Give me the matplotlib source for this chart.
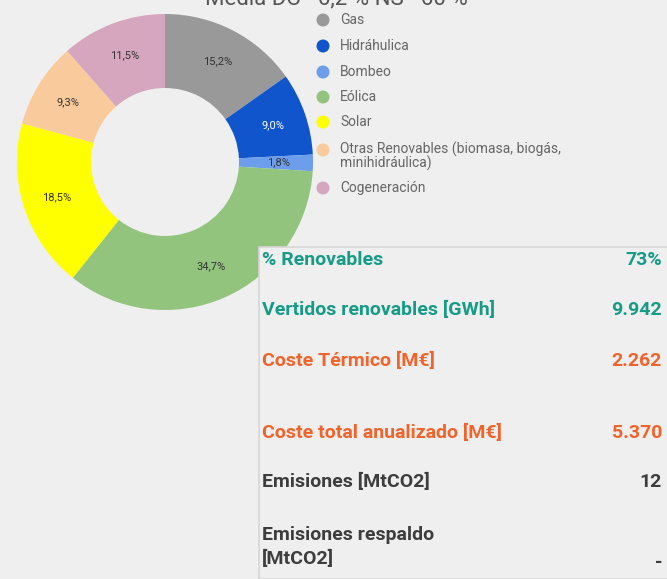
import matplotlib
matplotlib.use("Agg")
import matplotlib.pyplot as plt
from matplotlib.patches import Rectangle, Ellipse
import numpy as np

# ---- data ----
categories = ["Gas", "Hidráhulica", "Bombeo", "Eólica", "Solar",
              "Otras Renovables (biomasa, biogás,\nminihidráulica)", "Cogeneración"]
shares = [15.2, 9.0, 1.8, 34.7, 18.5, 9.3, 11.5]
share_labels = ["15,2%", "9,0%", "1,8%", "34,7%", "18,5%", "9,3%", "11,5%"]
colors = ["#999999", "#1155cc", "#6d9eeb", "#93c47d", "#ffff00", "#f9cb9c", "#d5a6bd"]
label_colors = ["#333333", "#ffffff", "#333333", "#333333", "#333333", "#333333", "#333333"]

title = "Media DC - 6,2 % NS - 60 %"

kpi_names = ["% Renovables", "Vertidos renovables [GWh]", "Coste Térmico [M€]",
             "Coste total anualizado [M€]", "Emisiones [MtCO2]", "Emisiones respaldo\n[MtCO2]"]
kpi_values = ["73%", "9.942", "2.262", "5.370", "12", "-"]
kpi_colors = ["#169b87", "#169b87", "#f0642c", "#f0642c", "#3d3d3d", "#3d3d3d"]

W, H = 667, 579
BG = "#efefef"
plt.rcParams['font.family'] = ['Roboto', 'DejaVu Sans']

fig = plt.figure(figsize=(W / 100, H / 100), dpi=100, facecolor=BG)

def fx(px):
    return px / W

def fy(py):
    return 1 - py / H

# ---- donut ----
cx, cy, R = 165, 162, 148
ax = fig.add_axes([fx(cx - R), fy(cy + R), 2 * R / W, 2 * R / H])
ax.set_facecolor(BG)
wedges, _ = ax.pie(shares, colors=colors, startangle=90, counterclock=False,
                   radius=1.0, wedgeprops=dict(width=0.5, linewidth=0))
for w, lab, lc in zip(wedges, share_labels, label_colors):
    mid = np.deg2rad((w.theta1 + w.theta2) / 2)
    r = 0.77
    ax.text(r * np.cos(mid), r * np.sin(mid), lab, ha="center", va="center",
            fontsize=8, color=lc)
ax.set_xlim(-1, 1)
ax.set_ylim(-1, 1)
ax.set_aspect("equal")
ax.axis("off")

# ---- title (cut at top, as in the reference) ----
fig.text(fx(336), fy(4), title, ha="center", va="baseline", fontsize=16, color="#555555")

# ---- legend ----
leg_y = [20, 46, 72, 97, 122, 150, 188]
for cat, col, yy in zip(categories, colors, leg_y):
    fig.patches.append(Ellipse((fx(323), fy(yy)), 13 / W, 13 / H,
                               transform=fig.transFigure,
                               facecolor=col, edgecolor="none"))
    ty = yy if "\n" not in cat else yy + 6
    fig.text(fx(340), fy(ty), cat, ha="left", va="center",
             fontsize=10, color="#666666", linespacing=0.88)

# ---- KPI box ----
box = Rectangle((fx(259), 0), 1 - fx(259) + 0.01, fy(247), transform=fig.transFigure,
                facecolor=BG, edgecolor="#d6d6d6", linewidth=1.2, zorder=5)
fig.patches.append(box)

row_y = [260, 310, 361, 433, 482, 547]
for name, val, col, yy in zip(kpi_names, kpi_values, kpi_colors, row_y):
    fig.text(fx(262), fy(yy), name, ha="left", va="center", fontsize=14,
             fontweight="bold", color=col, zorder=6, linespacing=1.45)
    vy = yy if "\n" not in name else 563
    fig.text(fx(662), fy(vy), val, ha="right", va="center", fontsize=14,
             fontweight="bold", color=col, zorder=6)

fig.savefig("out.png", dpi=100, facecolor=BG)
